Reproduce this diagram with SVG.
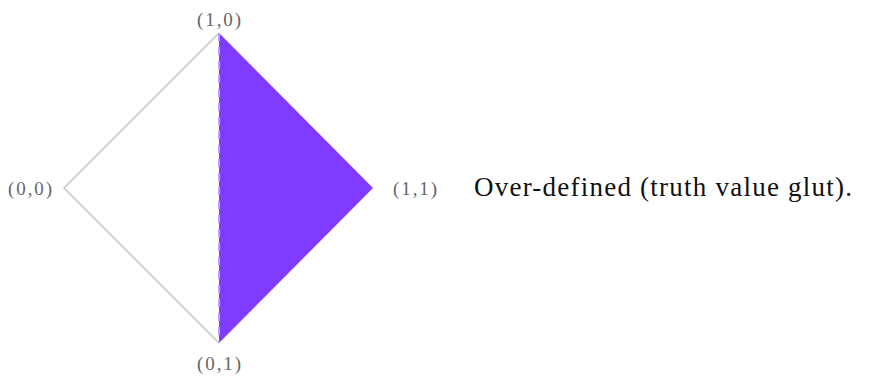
<svg xmlns="http://www.w3.org/2000/svg" width="877" height="383" viewBox="0 0 877 383">
<style>
.lbl{font-family:"Liberation Serif",serif;font-size:19px;fill:#666;text-anchor:middle}
.cap{font-family:"Liberation Serif",serif;font-size:27px;fill:#111}
.edge{stroke:#c8c8c8;stroke-width:1.5;fill:none}
</style>
<rect width="877" height="383" fill="#fff"/>
<g id="diagram">
<g id="fill-right"><polygon points="219,33 373,188 219,343" fill="#7f3bff"/></g>
<g id="connectors">
<polyline class="edge" points="219,33 64,188 219,343"/>
<line x1="219" y1="33" x2="219" y2="343" stroke="#b89cff" stroke-width="2" stroke-dasharray="8,6"/>
</g>
<g id="n10"><text class="lbl" x="219" y="26" textLength="44" lengthAdjust="spacing">(1,0)</text></g>
<g id="n00"><text class="lbl" x="30" y="195" textLength="44" lengthAdjust="spacing">(0,0)</text></g>
<g id="n11"><text class="lbl" x="415" y="195" textLength="44" lengthAdjust="spacing">(1,1)</text></g>
<g id="n01"><text class="lbl" x="219" y="370" textLength="44" lengthAdjust="spacing">(0,1)</text></g>
</g>
<g id="caption"><text class="cap" x="474" y="196" textLength="378" lengthAdjust="spacing">Over-defined (truth value glut).</text></g>
</svg>
